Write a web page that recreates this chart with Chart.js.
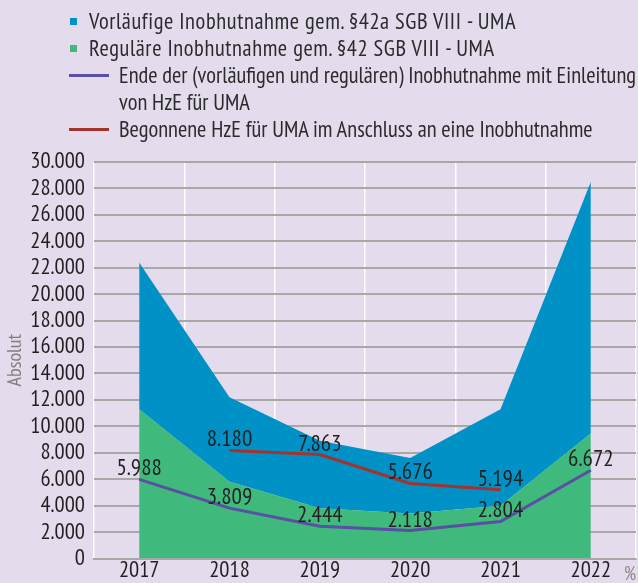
<!DOCTYPE html>
<html lang="de">
<head>
<meta charset="utf-8">
<script src="https://cdn.jsdelivr.net/npm/chart.js@4.4.1/dist/chart.umd.min.js"></script>
<style>
	html, body { margin: 0; padding: 0; background: #e4dcec; }
	body {
		width: 638px; height: 583px; position: relative; overflow: hidden;
		font-family: "PT Sans Narrow", "DejaVu Sans Condensed", sans-serif;
		color: #2b2b2b;
	}
	#chart { position: absolute; left: 0; top: 0; }
	.legend { position: absolute; left: 0; top: 7px; font-size: 22.5px; line-height: 27px; }
	.legend-item { position: relative; white-space: nowrap; }
	.legend-item .mark { position: absolute; }
	.legend-item.box { padding-left: 89px; letter-spacing: 0.6px; }
	.legend-item.box .mark { left: 70px; width: 7px; height: 7px; top: 11px; }
	.legend-item.line { padding-left: 119px; }
	.legend-item.line .mark { left: 69px; width: 40px; height: 3px; top: 13px; }
	.pct { position: absolute; left: 624px; top: 561px; font-size: 19px; color: #8a8a8a; }
</style>
</head>
<body>
<canvas id="chart" width="638" height="583"></canvas>
<div class="legend" id="legend"></div>
<div class="pct">%</div>
<script>
const years = ["2017", "2018", "2019", "2020", "2021", "2022"];

// Flächen (gestapelt)
const regulaer = [11300, 5800, 3800, 3400, 4000, 9450];
const vorlaeufig = [11100, 6400, 5100, 4200, 7300, 19050];

// Linien
const endeInobhut = [5988, 3809, 2444, 2118, 2804, 6672];
const begonneneHzE = [null, 8180, 7863, 5676, 5194, null];

const seriesNames = [
	"Vorläufige Inobhutnahme gem. §42a SGB VIII - UMA",
	"Reguläre Inobhutnahme gem. §42 SGB VIII - UMA",
	"Ende der (vorläufigen und regulären) Inobhutnahme mit Einleitung\nvon HzE für UMA",
	"Begonnene HzE für UMA im Anschluss an eine Inobhutnahme",
];

const colors = {
	blue: "#0091c7",
	green: "#40b97c",
	purple: "#5a4fa3",
	red: "#a3332b",
};

const fontFamily = '"PT Sans Narrow", "DejaVu Sans Condensed", sans-serif';

const fmt = (v) => String(v).replace(/\B(?=(\d{3})+(?!\d))/g, ".");

// Legende als HTML
const legendItems = [
	{ text: seriesNames[0], color: colors.blue, kind: "box" },
	{ text: seriesNames[1], color: colors.green, kind: "box" },
	{ text: seriesNames[2], color: colors.purple, kind: "line" },
	{ text: seriesNames[3], color: colors.red, kind: "line" },
];
const legend = document.getElementById("legend");
legendItems.forEach((item) => {
	const div = document.createElement("div");
	div.className = "legend-item " + item.kind;
	const mark = document.createElement("span");
	mark.className = "mark";
	mark.style.background = item.color;
	div.appendChild(mark);
	item.text.split("\n").forEach((line, i) => {
		if (i > 0) div.appendChild(document.createElement("br"));
		div.appendChild(document.createTextNode(line));
	});
	legend.appendChild(div);
});

// Werte über den Linienpunkten
const valueLabels = {
	id: "valueLabels",
	afterDatasetsDraw(chart) {
		const ctx = chart.ctx;
		ctx.save();
		ctx.font = "23px " + fontFamily;
		ctx.fillStyle = "#231f20";
		ctx.textAlign = "center";
		ctx.textBaseline = "alphabetic";
		chart.data.datasets.forEach((ds, i) => {
			if (!ds.showValues) return;
			chart.getDatasetMeta(i).data.forEach((pt, j) => {
				const v = ds.data[j];
				if (v == null) return;
				ctx.fillText(fmt(v), pt.x, pt.y - 4);
			});
		});
		ctx.restore();
	},
};

Chart.defaults.font.family = fontFamily;
Chart.defaults.color = "#231f20";

new Chart(document.getElementById("chart"), {
	type: "line",
	data: {
		labels: years,
		datasets: [
			{
				label: seriesNames[1],
				data: regulaer,
				stack: "flaeche",
				order: 1,
				backgroundColor: colors.green,
				borderWidth: 0,
				pointRadius: 0,
				fill: "origin",
			},
			{
				label: seriesNames[0],
				data: vorlaeufig,
				stack: "flaeche",
				order: 1,
				backgroundColor: colors.blue,
				borderWidth: 0,
				pointRadius: 0,
				fill: "-1",
			},
			{
				label: seriesNames[2],
				data: endeInobhut,
				stack: "ende",
				order: 0,
				borderColor: colors.purple,
				borderWidth: 3,
				pointRadius: 0,
				fill: false,
				showValues: true,
			},
			{
				label: seriesNames[3],
				data: begonneneHzE,
				stack: "hze",
				order: 0,
				borderColor: colors.red,
				borderWidth: 3,
				pointRadius: 0,
				fill: false,
				showValues: true,
			},
		],
	},
	options: {
		responsive: false,
		animation: false,
		layout: { padding: { top: 162, right: 2, left: 0, bottom: 0 } },
		plugins: {
			legend: { display: false },
			tooltip: { enabled: false },
		},
		scales: {
			x: {
				offset: true,
				grid: { offset: true, color: "#ffffff", lineWidth: 1.5, drawTicks: false },
				border: { display: true, color: "#a8a8a8", width: 2 },
				ticks: { font: { size: 22.5, lineHeight: 1 }, padding: 1, maxRotation: 0 },
			},
			y: {
				stacked: true,
				min: 0,
				max: 30000,
				afterFit: (scale) => { scale.width = 94; },
				ticks: {
					stepSize: 2000,
					autoSkip: false,
					font: { size: 22.5 },
					padding: 9,
					callback: (v) => fmt(v),
				},
				grid: { color: "#a8a8a8", lineWidth: 2, drawTicks: false },
				border: { display: false },
				title: {
					display: true,
					text: "Absolut",
					color: "#7f7f7f",
					font: { size: 20, lineHeight: 1 },
					padding: { top: 5, bottom: 0 },
				},
			},
		},
	},
	plugins: [valueLabels],
});
</script>
</body>
</html>
